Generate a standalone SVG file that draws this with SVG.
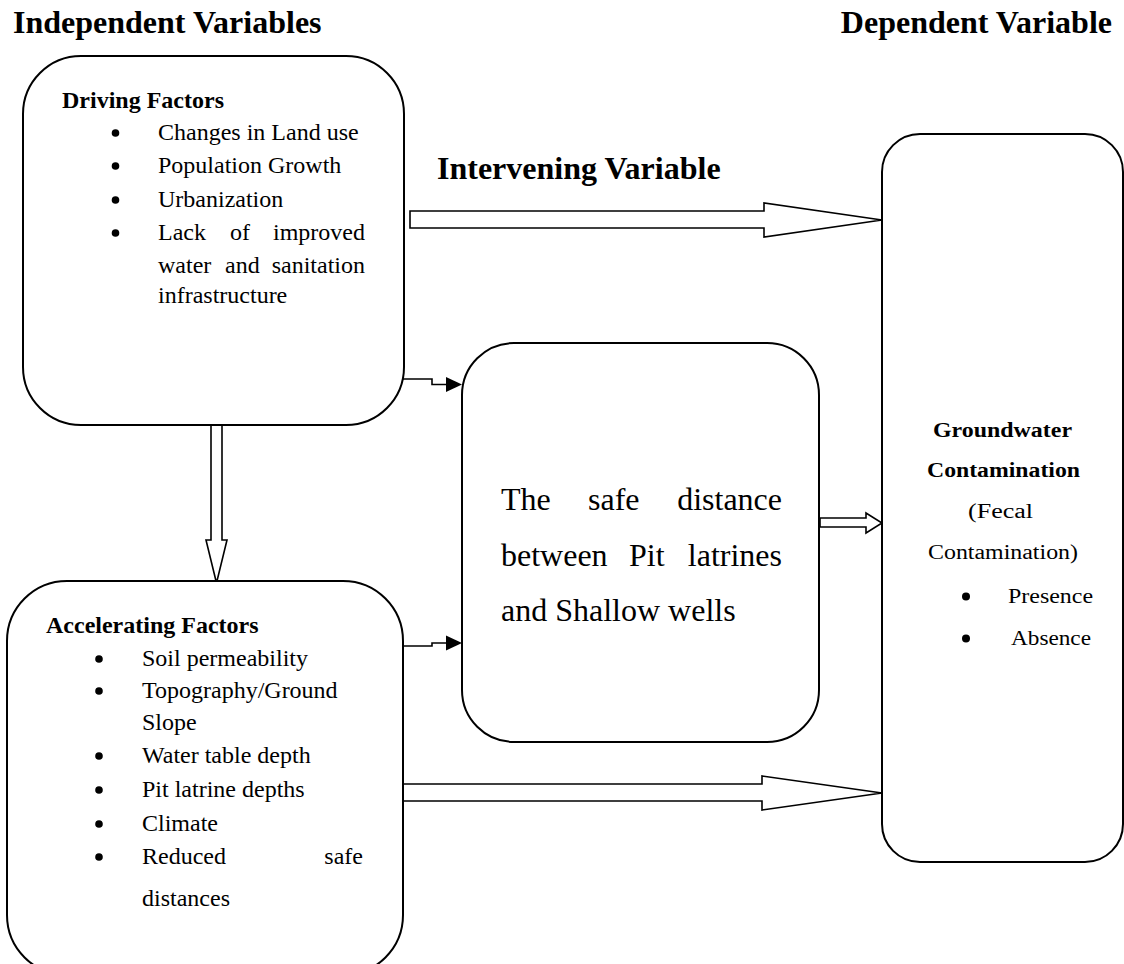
<svg xmlns="http://www.w3.org/2000/svg" width="1124" height="964" viewBox="0 0 1124 964">
<style>
.box{fill:#fff;stroke:#000;stroke-width:2}
.arr{fill:#fff;stroke:#000;stroke-width:1.6;stroke-linejoin:miter}
.ln{fill:none;stroke:#000;stroke-width:1.6}
.hd{fill:#000;stroke:none}
.bul{fill:#000;stroke:none}
text{font-family:"Liberation Serif","Times New Roman",serif;fill:#000}
.h{font-size:32px;font-weight:bold}
.b{font-size:24px;font-weight:bold}
.t{font-size:24px}
.m{font-size:32px}
.r{font-size:20px}
</style>
<rect width="1124" height="964" fill="#fff"/>
<g id="headings">
<text class="h" x="13" y="33">Independent Variables</text>
<text class="h" x="1112" y="33" text-anchor="end">Dependent Variable</text>
<text class="h" x="437" y="179">Intervening Variable</text>
</g>
<g id="connectors">
<path class="arr" d="M410,211 H764 V203 L882,220 L764,237 V228 H410 Z"/>
<path class="arr" d="M402,784 H762 V776 L882,793 L762,810 V801 H402 Z"/>
<path class="arr" d="M211,424 H222 V540 H227 L216.5,583 L206,540 H211 Z"/>
<path class="arr" d="M820,518 H866 V513 L882,523 L866,533 V527 H820 Z"/>
<path class="ln" d="M403,379 H432 V384.5 H447"/>
<path class="hd" d="M446,377 L462,384.5 L446,392 Z"/>
<path class="ln" d="M403,646 H432 V643 H447"/>
<path class="hd" d="M446,635.5 L462,643 L446,650.5 Z"/>
</g>
<g id="driving">
<rect class="box" x="23" y="56" width="381" height="369" rx="58" ry="58"/>
<text class="b" x="62" y="108">Driving Factors</text>
<circle class="bul" cx="115.5" cy="133" r="3.8"/>
<circle class="bul" cx="115.5" cy="166" r="3.8"/>
<circle class="bul" cx="115.5" cy="200" r="3.8"/>
<circle class="bul" cx="115.5" cy="233" r="3.8"/>
<g class="t">
<text x="158" y="140">Changes in Land use</text>
<text x="158" y="173">Population Growth</text>
<text x="158" y="207">Urbanization</text>
<text x="158" y="240">Lack</text><text x="230" y="240">of</text><text x="365" y="240" text-anchor="end">improved</text>
<text x="158" y="273">water</text><text x="225" y="273">and</text><text x="365" y="273" text-anchor="end">sanitation</text>
<text x="158" y="303">infrastructure</text>
</g>
</g>
<g id="accelerating">
<rect class="box" x="7" y="581" width="396" height="394" rx="60" ry="60"/>
<text class="b" x="46" y="633">Accelerating Factors</text>
<circle class="bul" cx="99" cy="659" r="3.8"/>
<circle class="bul" cx="99" cy="691" r="3.8"/>
<circle class="bul" cx="99" cy="756" r="3.8"/>
<circle class="bul" cx="99" cy="790" r="3.8"/>
<circle class="bul" cx="99" cy="824" r="3.8"/>
<circle class="bul" cx="99" cy="857" r="3.8"/>
<g class="t">
<text x="142" y="666">Soil permeability</text>
<text x="142" y="698">Topography/Ground</text>
<text x="142" y="730">Slope</text>
<text x="142" y="763">Water table depth</text>
<text x="142" y="797">Pit latrine depths</text>
<text x="142" y="831">Climate</text>
<text x="142" y="864">Reduced</text><text x="363" y="864" text-anchor="end">safe</text>
<text x="142" y="906">distances</text>
</g>
</g>
<g id="intervening">
<rect class="box" x="462" y="343" width="357" height="399" rx="52" ry="52"/>
<g class="m">
<text x="501" y="510">The</text><text x="588" y="510">safe</text><text x="782" y="510" text-anchor="end">distance</text>
<text x="501" y="566">between</text><text x="629" y="566">Pit</text><text x="782" y="566" text-anchor="end">latrines</text>
<text x="501" y="621">and Shallow wells</text>
</g>
</g>
<g id="dependent">
<rect class="box" x="882" y="134" width="241" height="728" rx="38" ry="38"/>
<circle class="bul" cx="966" cy="596.5" r="4"/>
<circle class="bul" cx="966" cy="638.5" r="4"/>
<g class="r">
<text x="933" y="437" font-weight="bold" textLength="139" lengthAdjust="spacingAndGlyphs">Groundwater</text>
<text x="927" y="477" font-weight="bold" textLength="153" lengthAdjust="spacingAndGlyphs">Contamination</text>
<text x="968" y="518" textLength="65" lengthAdjust="spacingAndGlyphs">(Fecal</text>
<text x="928" y="559" textLength="150" lengthAdjust="spacingAndGlyphs">Contamination)</text>
<text x="1008" y="603" textLength="85" lengthAdjust="spacingAndGlyphs">Presence</text>
<text x="1011" y="645" textLength="80" lengthAdjust="spacingAndGlyphs">Absence</text>
</g>
</g>
</svg>
